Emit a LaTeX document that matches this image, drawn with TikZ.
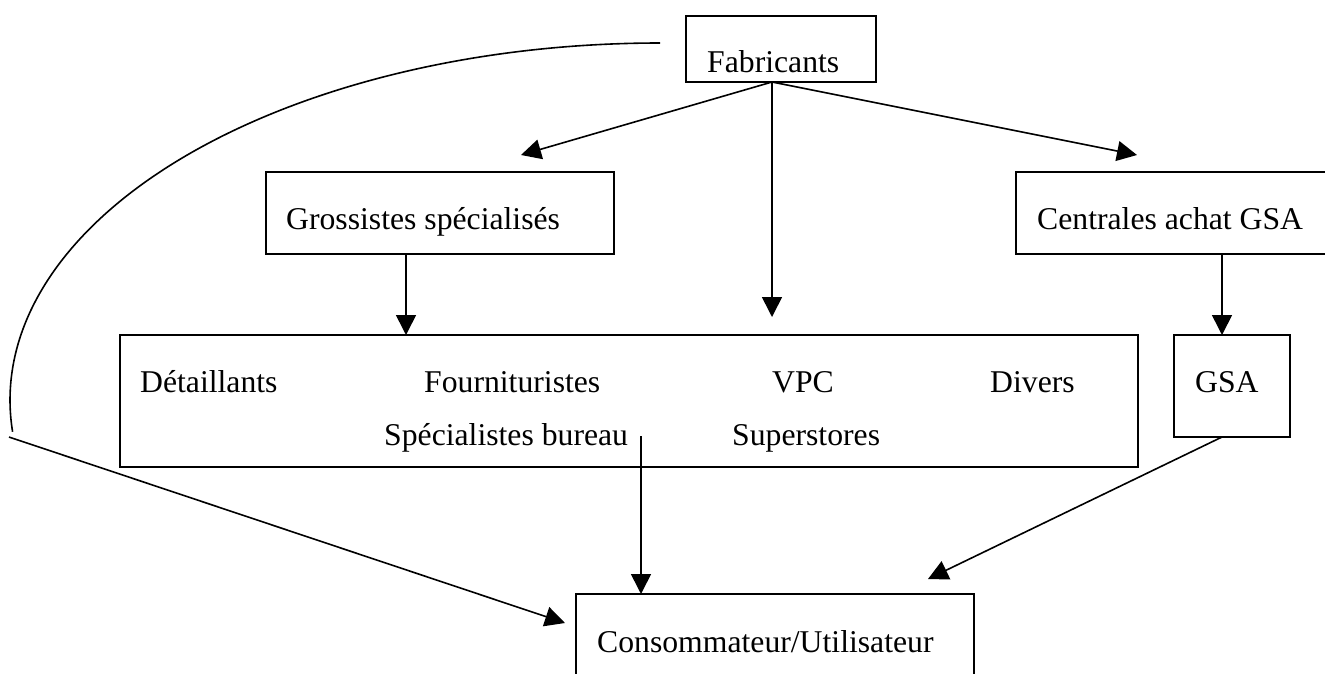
\documentclass[tikz,border=0pt]{standalone}
\usepackage{fontspec}
\setmainfont{Liberation Serif}
\usetikzlibrary{arrows.meta}
\begin{document}
\begin{tikzpicture}[x=1pt,y=-1pt,
  box/.style={draw, line width=1.6pt, inner sep=0pt},
  lbl/.style={anchor=base west, inner sep=0pt, font=\fontsize{31.7}{38}\selectfont},
  conn/.style={line width=1.6pt},
  arr/.style={line width=1.6pt, -{Triangle[length=20pt,width=20pt]}}]
\useasboundingbox (0,0) rectangle (1325,673);
% boxes
\node[box, minimum width=190pt, minimum height=66pt] (fab) at (781,49) {};
\node[box, minimum width=348pt, minimum height=82pt] (gros) at (440,213) {};
\node[box, minimum width=324pt, minimum height=82pt] (cent) at (1178,213) {};
\node[box, minimum width=1018pt, minimum height=132pt] (big) at (629,401) {};
\node[box, minimum width=116pt, minimum height=102pt] (gsa) at (1232,386) {};
\node[box, minimum width=398pt, minimum height=110pt] (cons) at (775,649) {};
% labels
\node[lbl] (tfab) at (707,72) {Fabricants};
\node[lbl] (tgros) at (286,229) {Grossistes spécialisés};
\node[lbl] (tcent) at (1037,229) {Centrales achat GSA};
\node[lbl] (tdet) at (140,392) {Détaillants};
\node[lbl] (tfour) at (424,392) {Fournituristes};
\node[lbl] (tvpc) at (772,392) {VPC};
\node[lbl] (tdiv) at (990,392) {Divers};
\node[lbl] (tspe) at (384,445) {Spécialistes bureau};
\node[lbl] (tsup) at (732,445) {Superstores};
\node[lbl] (tgsa) at (1195,392) {GSA};
\node[lbl] (tcons) at (597,652) {Consommateur/Utilisateur};
% connector end points
\coordinate (fabS) at (772,82);
\coordinate (grosT) at (521,155);
\coordinate (bigT) at (772,317);
\coordinate (centT) at (1137,155);
\coordinate (grosS) at (406,254);
\coordinate (bigG) at (406,335);
\coordinate (centS) at (1222,254);
\coordinate (gsaT) at (1222,335);
\coordinate (bigS) at (641,436);
\coordinate (consT) at (641,594);
\coordinate (gsaS) at (1222,437);
\coordinate (consR) at (928,579);
\coordinate (arcA) at (660,43);
\coordinate (arcB) at (9,437);
\coordinate (consL) at (565,623);
% connectors
\draw[arr] (fabS) -- (grosT);
\draw[arr] (fabS) -- (bigT);
\draw[arr] (fabS) -- (centT);
\draw[arr] (grosS) -- (bigG);
\draw[arr] (centS) -- (gsaT);
\draw[arr] (bigS) -- (consT);
\draw[arr] (gsaS) -- (consR);
\draw[conn] (arcA) arc[start angle=90, end angle=185.1, x radius=650pt, y radius=357pt];
\draw[arr] (arcB) -- (consL);
\end{tikzpicture}
\end{document}
